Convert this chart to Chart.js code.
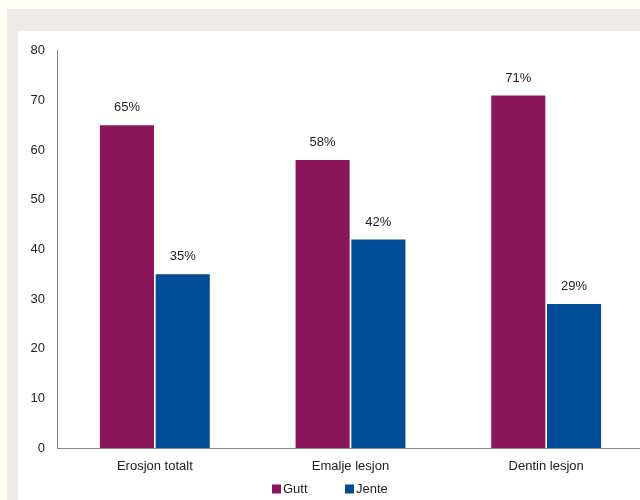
<!DOCTYPE html>
<html><head><meta charset="utf-8">
<script src="https://cdn.jsdelivr.net/npm/chart.js@4"></script>
<style>
html,body{margin:0;padding:0;width:640px;height:500px;overflow:hidden;background:#fffff4;}
#gray{position:absolute;left:7px;top:9px;width:640px;height:500px;background:#eeeae8;}
#panel{position:absolute;left:18px;top:31px;width:626px;height:469px;background:#fff;}
canvas{display:block;}
</style></head><body>
<div id="gray"></div>
<div id="panel"><canvas id="c" width="626" height="469"></canvas></div>
<script>
const categories = ["Erosjon totalt", "Emalje lesjon", "Dentin lesjon"];
const gutt = [65, 58, 71];
const jente = [35, 42, 29];
const seriesNames = ["Gutt", "Jente"];
const yTicks = [0, 10, 20, 30, 40, 50, 60, 70, 80];

const FONT = "'Liberation Sans', Arial, sans-serif";
const labelPlugin = {
  id: 'vlabels',
  afterDatasetsDraw(chart) {
    const ctx = chart.ctx;
    ctx.save();
    ctx.font = "13px " + FONT;
    ctx.fillStyle = "#222";
    ctx.textAlign = "center";
    ctx.textBaseline = "bottom";
    chart.data.datasets.forEach((ds, i) => {
      chart.getDatasetMeta(i).data.forEach((bar, j) => {
        ctx.fillText(ds.data[j] + "%", bar.x, bar.y - 11);
      });
    });
    ctx.restore();
  }
};
const legendPlugin = {
  id: 'customLegend',
  afterDraw(chart) {
    const ctx = chart.ctx;
    ctx.save();
    ctx.font = "13px " + FONT;
    ctx.textBaseline = "middle";
    ctx.textAlign = "left";
    const y = 458;
    const starts = [254, 327];
    chart.data.datasets.forEach((ds, i) => {
      ctx.fillStyle = ds.backgroundColor;
      ctx.fillRect(starts[i], y - 4.5, 9, 9);
      ctx.fillStyle = "#222";
      ctx.fillText(ds.label, starts[i] + 11, y);
    });
    ctx.restore();
  }
};

new Chart(document.getElementById('c'), {
  type: 'bar',
  data: {
    labels: categories,
    datasets: [
      { label: seriesNames[0], data: gutt, backgroundColor: '#8b155b' },
      { label: seriesNames[1], data: jente, backgroundColor: '#004c97' }
    ]
  },
  options: {
    responsive: false,
    animation: false,
    events: [],
    layout: { padding: { top: 16, right: 0, left: 0, bottom: 0 } },
    datasets: { bar: { categoryPercentage: 0.57, barPercentage: 0.97 } },
    plugins: {
      tooltip: { enabled: false },
      legend: { display: false }
    },
    scales: {
      y: {
        min: 0, max: 80,
        afterBuildTicks(s) { s.ticks = yTicks.map(v => ({ value: v })); },
        afterFit(s) { s.width = 39; },
        grid: { display: false, drawTicks: false },
        border: { display: true, color: '#888', width: 1 },
        ticks: { padding: 12, color: '#222', font: { family: FONT, size: 13 } }
      },
      x: {
        afterFit(s) { s.height = 52; },
        grid: { display: false, drawTicks: false },
        border: { display: true, color: '#888', width: 1 },
        ticks: { padding: 11, color: '#222', font: { family: FONT, size: 13 } }
      }
    }
  },
  plugins: [labelPlugin, legendPlugin]
});
</script>
</body></html>
